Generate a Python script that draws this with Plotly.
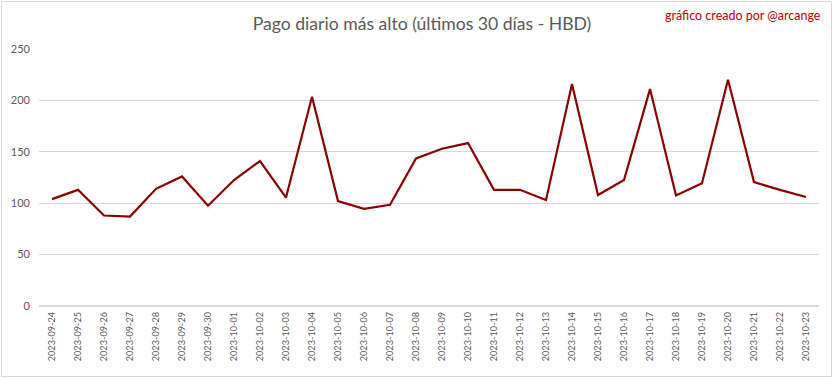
import plotly.graph_objects as go

dates = ["2023-09-24","2023-09-25","2023-09-26","2023-09-27","2023-09-28","2023-09-29","2023-09-30",
         "2023-10-01","2023-10-02","2023-10-03","2023-10-04","2023-10-05","2023-10-06","2023-10-07",
         "2023-10-08","2023-10-09","2023-10-10","2023-10-11","2023-10-12","2023-10-13","2023-10-14",
         "2023-10-15","2023-10-16","2023-10-17","2023-10-18","2023-10-19","2023-10-20","2023-10-21",
         "2023-10-22","2023-10-23"]
values = [104, 113, 88, 87, 114, 126, 97.5, 122.5, 141, 105.5, 203.5, 102, 94.5, 98.5,
          143.5, 153, 158.5, 113, 113, 103, 216, 108, 122.5, 211, 107.5, 119.5, 220, 120.5,
          113, 106]
y_ticks = [0, 50, 100, 150, 200, 250]

W, H = 833, 379
L, R, T, B = 39, 14, 49, 73
pw, ph = W - L - R, H - T - B

fig = go.Figure()
fig.add_trace(go.Scatter(x=dates, y=values, mode="lines",
                         line=dict(color="#8B0000", width=2.2), hoverinfo="x+y"))

fig.update_layout(
    width=W, height=H,
    margin=dict(l=L, r=R, t=T, b=B, autoexpand=False),
    paper_bgcolor="white", plot_bgcolor="white",
    showlegend=False,
    font=dict(family="Lato, Open Sans, sans-serif", color="#595959"),
    title=dict(text="Pago diario más alto (últimos 30 días - HBD)",
               x=(422 - L) / pw, xref="paper", xanchor="center", y=1 - 24 / H, yanchor="middle",
               font=dict(size=17.6, color="#595959", family="Lato, Open Sans, sans-serif")),
    xaxis=dict(type="category", tickangle=-90, showgrid=False, showline=False, automargin=False,
               ticks="", tickfont=dict(size=9.2, color="#595959"), range=[-0.5, 29.5],
               ticklabelstandoff=3, fixedrange=True),
    yaxis=dict(range=[0, 250], tickvals=y_ticks, showgrid=True, gridcolor="#d9d9d9",
               gridwidth=1, zeroline=True, zerolinecolor="#d9d9d9", ticks="", automargin=False,
               tickfont=dict(size=11, color="#595959"), ticklabelstandoff=8, fixedrange=True),
    annotations=[dict(text="gráfico creado por @arcange", xref="paper", yref="paper",
                      x=(823 - L) / pw, y=1 + (T - 15) / ph, xanchor="right", yanchor="middle",
                      showarrow=False, font=dict(size=12.5, color="#c00000",
                                                 family="Lato, Open Sans, sans-serif"))],
    shapes=[dict(type="rect", xref="paper", yref="paper",
                 x0=(1.5 - L) / pw, x1=(W - 1.5 - L) / pw,
                 y0=-(B - 2.5) / ph, y1=1 + (T - 1.5) / ph,
                 line=dict(color="#d9d9d9", width=1), fillcolor="rgba(0,0,0,0)", layer="below")],
)

fig.write_html("out.html", config={"displayModeBar": False},
               post_script="document.body.style.margin='0';document.body.style.padding='0';"
                           "document.body.style.overflow='hidden';")
